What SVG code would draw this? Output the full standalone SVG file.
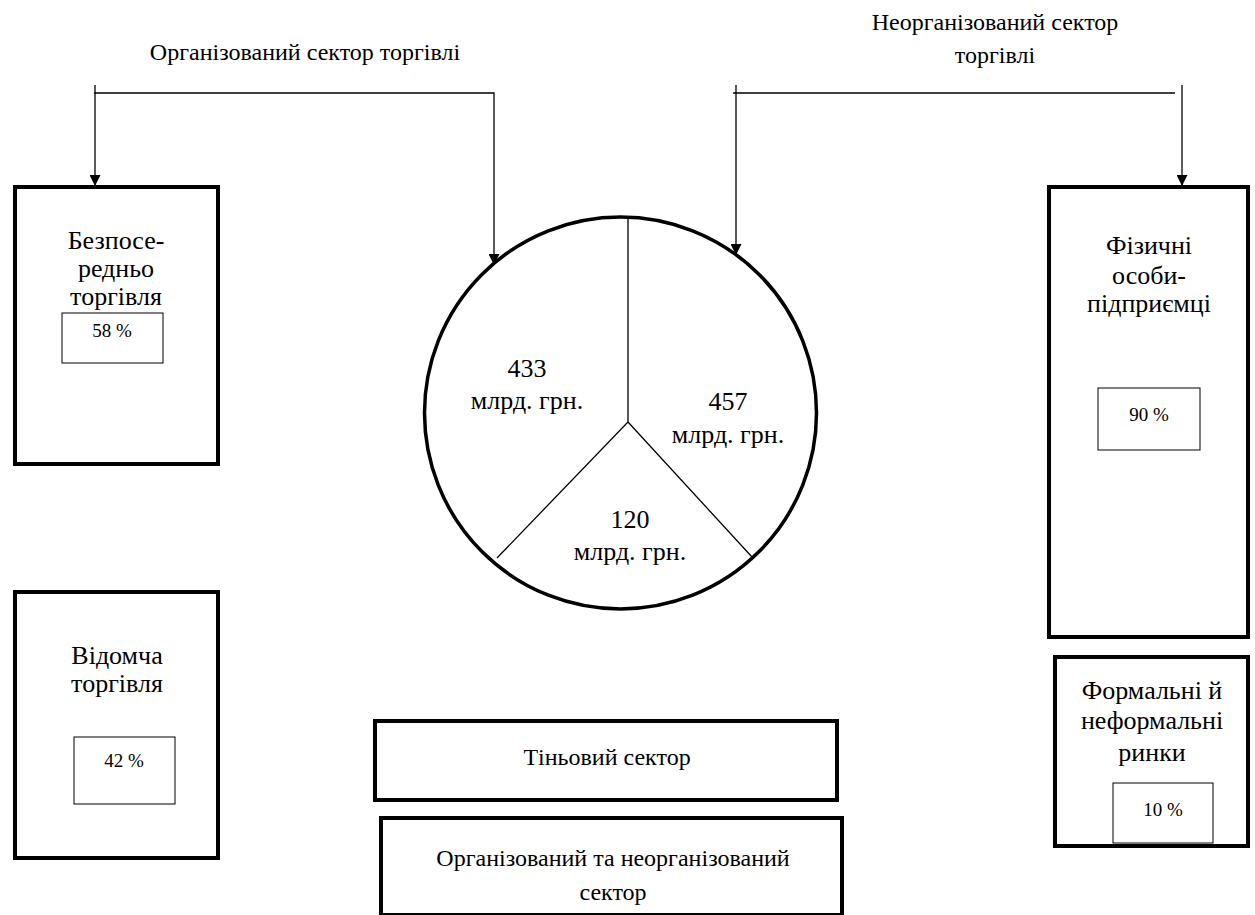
<svg xmlns="http://www.w3.org/2000/svg" width="1255" height="915" viewBox="0 0 1255 915">
<style>
text{font-family:"Liberation Serif","Times New Roman",serif;fill:#000;text-anchor:middle}
.t{font-size:24px}
.b{font-size:26px}
.s{font-size:19px}
.box{fill:#fff;stroke:#000;stroke-width:4}
.in{fill:#fff;stroke:#000;stroke-width:1}
.c{fill:none;stroke:#000;stroke-width:1.3}
</style>
<defs>
<marker id="ar" viewBox="0 0 10 10" refX="10" refY="5" markerWidth="11" markerHeight="11" markerUnits="userSpaceOnUse" orient="auto"><path d="M0,0L10,5L0,10z" fill="#000"/></marker>
</defs>
<rect width="1255" height="915" fill="#fff"/>
<g id="titles">
<text class="t" x="305" y="60">Організований сектор торгівлі</text>
<text class="t" x="995" y="30">Неорганізований сектор</text>
<text class="t" x="995" y="63">торгівлі</text>
</g>
<g id="pie">
<circle cx="620.5" cy="413" r="196" fill="#fff" stroke="#000" stroke-width="3.5"/>
<path class="c" d="M628,218V422L497,558M628,422L752,557"/>
<text class="b" x="527" y="377">433</text>
<text class="b" x="527" y="409">млрд. грн.</text>
<text class="b" x="728" y="410">457</text>
<text class="b" x="728" y="443">млрд. грн.</text>
<text class="b" x="630" y="528">120</text>
<text class="b" x="630" y="560">млрд. грн.</text>
</g>
<g id="connectors">
<path class="c" d="M95,85V186" marker-end="url(#ar)"/>
<path class="c" d="M94,93H494V265" marker-end="url(#ar)"/>
<path class="c" d="M736,85V255" marker-end="url(#ar)"/>
<path class="c" d="M733,93H1175"/>
<path class="c" d="M1182,85V186" marker-end="url(#ar)"/>
</g>
<g id="direct">
<rect class="box" x="15" y="187" width="203" height="277"/>
<text class="b" x="116" y="249">Безпосе-</text>
<text class="b" x="116" y="277">редньо</text>
<text class="b" x="116" y="305">торгівля</text>
<rect class="in" x="62" y="313" width="101" height="50"/>
<text class="s" x="112" y="337">58 %</text>
</g>
<g id="dept">
<rect class="box" x="15" y="592" width="203" height="266"/>
<text class="b" x="117" y="664">Відомча</text>
<text class="b" x="117" y="692">торгівля</text>
<rect class="in" x="74" y="737" width="101" height="67"/>
<text class="s" x="124" y="767">42 %</text>
</g>
<g id="persons">
<rect class="box" x="1049" y="187" width="199" height="450"/>
<text class="b" x="1149" y="254">Фізичні</text>
<text class="b" x="1149" y="284">особи-</text>
<text class="b" x="1149" y="312">підприємці</text>
<rect class="in" x="1098" y="388" width="102" height="62"/>
<text class="s" x="1149" y="421">90 %</text>
</g>
<g id="markets">
<rect class="box" x="1055" y="657" width="193" height="189"/>
<text class="b" x="1152" y="699">Формальні й</text>
<text class="b" x="1152" y="729">неформальні</text>
<text class="b" x="1152" y="761">ринки</text>
<rect class="in" x="1113" y="783" width="100" height="60"/>
<text class="s" x="1163" y="816">10 %</text>
</g>
<g id="shadow">
<rect class="box" x="375" y="721" width="462" height="79"/>
<text class="t" x="607" y="765">Тіньовий сектор</text>
</g>
<g id="both">
<rect class="box" x="381" y="818" width="461" height="97"/>
<text class="t" x="613" y="866">Організований та неорганізований</text>
<text class="t" x="613" y="900">сектор</text>
</g>
</svg>
